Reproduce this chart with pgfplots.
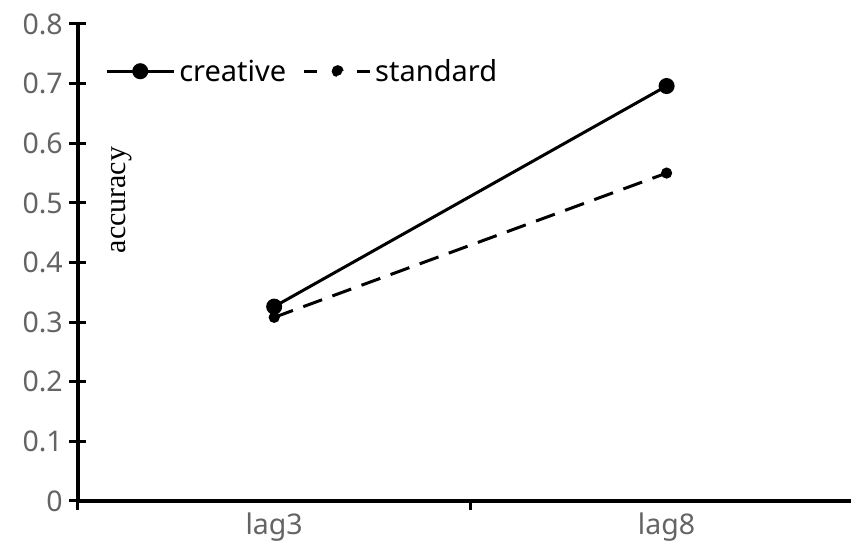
\documentclass[border=0pt]{standalone}
\usepackage{pgfplots}
\pgfplotsset{compat=1.18}
\usepackage{fontspec}
\setmainfont{Noto Sans}
\newfontfamily\serifacc{Liberation Serif}
\usetikzlibrary{calc}
\definecolor{ticktxt}{RGB}{100,100,100}
\begin{document}
\begin{tikzpicture}
\begin{axis}[
  scale only axis,
  width=773pt, height=477pt,
  xmin=-0.5, xmax=1.47,
  ymin=0, ymax=0.8,
  axis x line=bottom, axis y line=left,
  axis line style={line width=3.5pt,-},
  xtick={-0.5,0.5}, xticklabels={},
  extra x ticks={0,1},
  extra x tick labels={lag3,lag8},
  extra x tick style={major tick length=0pt, tick style={draw=none}},
  ytick={0,0.1,...,0.8},
  yticklabels={0,0.1,0.2,0.3,0.4,0.5,0.6,0.7,0.8},
  extra y ticks={0,0.1,0.2,0.3,0.4,0.5,0.6,0.7,0.8},
  extra y tick labels={},
  extra y tick style={tick align=inside, major tick length=8pt, tick style={line width=3pt,black}},
  tick align=outside,
  major tick length=9pt,
  tick style={line width=3pt,black},
  /pgf/number format/assume math mode=true,
  ticklabel style={font=\fontsize{28.5}{28.5}\selectfont, text=ticktxt},
  yticklabel style={anchor=east, inner sep=0pt, xshift=-6pt},
  xticklabel style={anchor=north, inner sep=0pt, yshift=-12pt},
  legend columns=2,
  legend style={draw=none, fill=none, at={(rel axis cs:0.035,0.901)}, anchor=west,
    font=\fontsize{29}{29}\selectfont, inner sep=0pt,
    nodes={inner xsep=4pt},
    /tikz/every even column/.append style={column sep=12pt}},
  legend cell align=left,
  clip=false,
]
\addplot[line width=3pt, black, mark=*, mark size=6.5pt, mark options={solid},
  legend image code/.code={\draw[solid,line width=3pt,black](0pt,0pt)--(67pt,0pt); \fill[black](33.5pt,0pt) circle (6.5pt);}]
  coordinates {(0,0.326) (1,0.696)};
\addlegendentry{creative}
\addplot[line width=3pt, black, dash pattern=on 20pt off 11pt, mark=*, mark size=4pt, mark options={solid},
  legend image code/.code={\draw[solid,line width=3pt,black](0pt,0pt)--(13pt,0pt); \draw[solid,line width=3pt,black](53pt,0pt)--(66pt,0pt); \fill[black](34pt,0pt) circle (4.5pt);}]
  coordinates {(0,0.308) (1,0.55)};
\addlegendentry{standard}
\node[rotate=90, font=\serifacc\fontsize{30}{30}\selectfont, inner sep=0pt] at (rel axis cs:0.057,0.631) {accuracy};
\coordinate (sw) at (rel axis cs:0,0);
\coordinate (ne) at (rel axis cs:1,1);
\end{axis}
\pgfresetboundingbox
\path[use as bounding box] ($(sw)+(-78pt,-57pt)$) rectangle ($(ne)+(0pt,24pt)$);
\end{tikzpicture}
\end{document}
